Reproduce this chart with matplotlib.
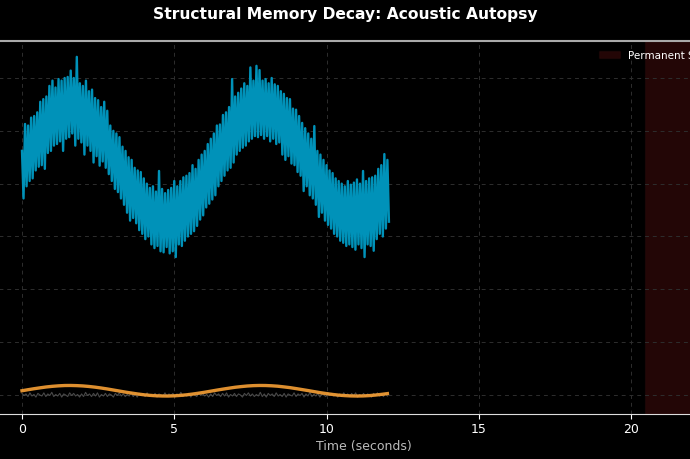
import numpy as np
import matplotlib
matplotlib.use("Agg")
from matplotlib import pyplot as plt

# --- data -------------------------------------------------------------------
t_start, t_end = 0.0, 12.0

# raw signal envelope, one high and one low reading every 0.1 s
blue_hi = [4.62, 5.13, 5.10, 5.25, 5.28, 5.35, 5.55, 5.60, 5.65, 5.85,
           5.95, 5.82, 5.98, 5.95, 6.00, 6.02, 6.14, 6.00, 6.40, 5.90,
           5.85, 5.95, 5.75, 5.78, 5.62, 5.58, 5.45, 5.55, 5.38, 5.10,
           5.00, 4.95, 4.88, 4.70, 4.62, 4.50, 4.45, 4.30, 4.25, 4.22,
           4.10, 4.00, 3.92, 3.95, 3.85, 4.24, 3.90, 3.82, 3.88, 3.92,
           4.05, 3.95, 4.05, 4.12, 4.15, 4.20, 4.35, 4.28, 4.45, 4.55,
           4.62, 4.75, 4.85, 4.95, 5.10, 5.12, 5.30, 5.35, 5.45, 5.98,
           5.65, 5.72, 5.80, 5.90, 5.85, 6.20, 5.95, 6.23, 6.15, 5.95,
           5.98, 5.90, 6.00, 5.88, 5.85, 5.75, 5.70, 5.62, 5.60, 5.42,
           5.40, 5.28, 5.15, 5.05, 4.95, 4.85, 5.09, 4.62, 4.55, 4.45,
           4.35, 4.25, 4.20, 4.10, 4.05, 4.00, 3.95, 4.05, 3.98, 4.02,
           4.08, 4.00, 4.24, 4.05, 4.10, 4.12, 4.15, 4.28, 4.35, 4.56,
           4.45]
blue_lo = [3.72, 3.95, 4.05, 4.10, 4.25, 4.32, 4.35, 4.28, 4.58, 4.62,
           4.72, 4.75, 4.80, 4.62, 4.85, 4.88, 4.95, 4.72, 4.85, 4.78,
           4.55, 4.72, 4.62, 4.40, 4.52, 4.34, 4.42, 4.30, 4.18, 4.05,
           3.90, 3.84, 3.72, 3.60, 3.45, 3.30, 3.35, 3.25, 3.12, 3.05,
           2.95, 3.00, 2.85, 2.78, 2.82, 2.72, 2.70, 2.80, 2.68, 2.72,
           2.61, 2.85, 2.82, 2.92, 3.00, 3.05, 3.10, 3.20, 3.32, 3.40,
           3.55, 3.62, 3.70, 3.78, 3.95, 4.05, 4.15, 4.25, 4.30, 4.40,
           4.55, 4.62, 4.68, 4.72, 4.80, 4.85, 4.90, 4.88, 4.92, 4.85,
           4.90, 4.80, 4.85, 4.75, 4.78, 4.55, 4.45, 4.52, 4.38, 4.35,
           4.22, 4.15, 3.86, 3.95, 3.78, 3.72, 3.60, 3.37, 3.45, 3.30,
           3.22, 3.15, 3.05, 3.00, 2.92, 2.88, 2.82, 2.85, 2.80, 2.75,
           2.85, 2.78, 2.61, 2.85, 2.82, 2.73, 2.95, 3.05, 3.00, 3.15,
           3.28]

# smooth reconstruction, every 0.2 s
orange_vals = [0.080, 0.100, 0.119, 0.136, 0.152, 0.164, 0.173, 0.179, 0.180, 0.177,
               0.171, 0.161, 0.148, 0.132, 0.114, 0.094, 0.074, 0.054, 0.036, 0.019,
               0.004, -0.007, -0.015, -0.019, -0.020, -0.016, -0.008, 0.003, 0.017, 0.034,
               0.052, 0.072, 0.092, 0.111, 0.129, 0.146, 0.159, 0.170, 0.177, 0.180,
               0.179, 0.174, 0.166, 0.153, 0.139, 0.121, 0.102, 0.083, 0.063, 0.043,
               0.026, 0.010, -0.003, -0.012, -0.018, -0.020, -0.018, -0.012, -0.002, 0.011,
               0.026]

# residual noise, every 0.0625 s
gray_vals = [0.03, -0.01, 0.02, -0.03, 0.04, -0.02, 0.01, -0.04, 0.03, 0.00,
             -0.02, 0.04, -0.03, 0.02, -0.01, 0.05, -0.03, 0.01, -0.02, 0.03,
             -0.04, 0.02, 0.00, -0.03, 0.04, -0.01, 0.03, -0.02, 0.01, -0.04,
             0.02, -0.03, 0.05, -0.01, 0.02, -0.03, 0.03, -0.02, 0.04, -0.04,
             0.01, -0.02, 0.03, -0.03, 0.02, 0.00, -0.04, 0.03, -0.01, 0.04,
             -0.02, 0.02, -0.03, 0.01, -0.02, 0.05, -0.03, 0.02, -0.04, 0.03,
             -0.01, 0.02, -0.03, 0.04, -0.02, 0.01, -0.03, 0.03, -0.04, 0.02,
             0.00, -0.02, 0.04, -0.03, 0.02, -0.01, 0.03, -0.04, 0.02, -0.02,
             0.05, -0.03, 0.01, -0.02, 0.03, -0.04, 0.02, 0.00, -0.03, 0.04,
             -0.01, 0.03, -0.02, 0.01, -0.04, 0.02, -0.03, 0.04, -0.01, 0.02,
             -0.03, 0.03, -0.02, 0.04, -0.04, 0.01, -0.02, 0.03, -0.03, 0.02,
             0.00, -0.04, 0.03, -0.01, 0.04, -0.02, 0.02, -0.03, 0.01, -0.02,
             0.05, -0.03, 0.02, -0.04, 0.03, -0.01, 0.02, -0.03, 0.04, -0.02,
             0.01, -0.03, 0.03, -0.04, 0.02, 0.00, -0.02, 0.04, -0.03, 0.02,
             -0.01, 0.03, -0.04, 0.02, -0.02, 0.05, -0.03, 0.01, -0.02, 0.03,
             -0.04, 0.02, 0.00, -0.03, 0.04, -0.01, 0.03, -0.02, 0.01, -0.04,
             0.02, -0.03, 0.04, -0.01, 0.02, -0.03, 0.03, -0.02, 0.04, -0.04,
             0.01, -0.02, 0.03, -0.03, 0.02, 0.00, -0.04, 0.03, -0.01, 0.04,
             -0.02, 0.02, -0.03, 0.03, -0.02]

scar_start, scar_end = 20.45, 23.45
scar_label = "Permanent Scar"
title = "Structural Memory Decay: Acoustic Autopsy"
xlabel = "Time (seconds)"
yticks = [0, 1, 2, 3, 4, 5, 6]

# --- drawing ------------------------------------------------------------------
W, H = 690, 460
fig = plt.figure(figsize=(W / 100, H / 100), dpi=100, facecolor="black")

# axes deliberately wider than the figure, so both sides get cut off
# (the y tick labels end up left of the canvas, as in the reference)
x_lo, x_hi = -1.0, 23.45
y_lo, y_hi = -0.36, 6.70
px_per_unit = 30.45
left_px = 22 - (0 - x_lo) * px_per_unit
right_px = 22 + (x_hi - 0) * px_per_unit
top_px, bottom_px = 42, 415
ax = fig.add_axes([left_px / W, (H - bottom_px) / H,
                   (right_px - left_px) / W, (bottom_px - top_px) / H])
ax.set_facecolor("black")

# high/low readings alternate to rebuild the dense noisy band
blue_y = np.column_stack([blue_hi, blue_lo]).ravel()
blue_t = np.linspace(t_start, t_end + 0.05, len(blue_y))
ax.plot(blue_t, blue_y, color="#0092b9", lw=1.7)

gray_t = np.linspace(t_start, t_end, len(gray_vals))
ax.plot(gray_t, gray_vals, color="#505050", lw=0.8, alpha=0.9)

orange_t = np.linspace(t_start, t_end, len(orange_vals))
ax.plot(orange_t, orange_vals, color="#f7a035", lw=2.4, alpha=0.9)

ax.axvspan(scar_start, scar_end, facecolor="#ff3030", alpha=0.14,
           edgecolor="#5a1a1a", lw=1, label=scar_label)

ax.set_xlim(x_lo, x_hi)
ax.set_ylim(y_lo, y_hi)
ax.set_xticks([0, 5, 10, 15, 20])
ax.set_yticks(yticks)
ax.grid(True, color="#2e2e2e", ls=(0, (4, 4)), lw=0.7)
ax.tick_params(colors="white", labelsize=9, pad=2.5)
ax.tick_params(axis="y", pad=6)

for side in ["left", "right"]:
    ax.spines[side].set_visible(False)
ax.spines["bottom"].set_color("#dddddd")
ax.spines["top"].set_color("#aaaaaa")
ax.spines["top"].set_linewidth(1.5)

ax.set_xlabel(xlabel, color="#bbbbbb", fontsize=9, labelpad=3)
leg = ax.legend(loc="upper right", bbox_to_anchor=(0.979, 1.0),
                fontsize=7.5, frameon=False)
for txt in leg.get_texts():
    txt.set_color("white")

fig.suptitle(title, color="white", fontsize=11.2, fontweight="bold", y=0.985)

fig.savefig("out.png", dpi=100, facecolor="black")
